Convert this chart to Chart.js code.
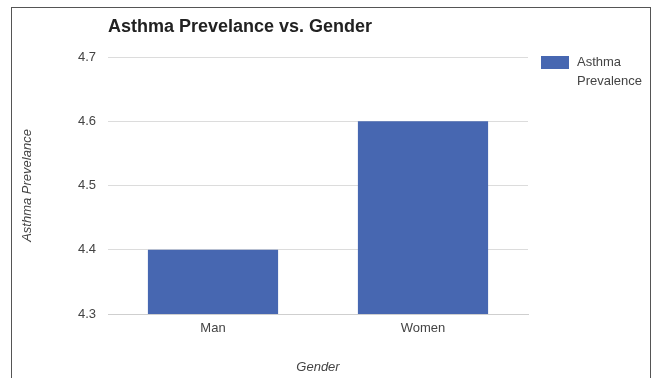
<!DOCTYPE html>
<html>
<head>
<meta charset="utf-8">
<script src="https://cdn.jsdelivr.net/npm/chart.js@4"></script>
<style>
  html, body { margin: 0; padding: 0; background: #fff; overflow: hidden; }
  #frame {
    position: absolute; left: 11px; top: 7px; width: 638px; height: 400px;
    border: 1.5px solid #555; border-bottom: none;
  }
  #wrap { position: absolute; left: 0; top: 0; width: 653px; height: 378px; }
</style>
</head>
<body>
<div id="frame"></div>
<div id="wrap"><canvas id="chart" width="653" height="378"></canvas></div>
<script>
// 資料
const categories = ['Man', 'Women'];
const prevalence = [4.4, 4.6];
const seriesName = 'Asthma Prevalence';
const chartTitle = 'Asthma Prevelance vs. Gender';
const yTitle = 'Asthma Prevelance';
const xTitle = 'Gender';
const yMin = 4.3, yMax = 4.7, yStep = 0.1;

const barColor = '#4767b1';
const textColor = '#444';
const fontFamily = '"Liberation Sans", Arial, sans-serif';

// 標題畫在繪圖區左邊對齊
const titlePlugin = {
  id: 'leftTitle',
  afterDraw(chart) {
    const { ctx, chartArea } = chart;
    ctx.save();
    ctx.font = 'bold 18px ' + fontFamily;
    ctx.fillStyle = '#222';
    ctx.textBaseline = 'alphabetic';
    ctx.textAlign = 'left';
    ctx.fillText(chartTitle, chartArea.left, 32);
    ctx.restore();
  }
};

// 右側圖例（文字自動換行）
const legendPlugin = {
  id: 'sideLegend',
  afterDraw(chart) {
    const { ctx, chartArea } = chart;
    const ds = chart.data.datasets[0];
    const x = chartArea.right + 13;
    const y = chartArea.top - 1;
    ctx.save();
    ctx.fillStyle = ds.backgroundColor;
    ctx.fillRect(x, y, 28, 13);
    ctx.font = '13px ' + fontFamily;
    ctx.fillStyle = textColor;
    ctx.textBaseline = 'middle';
    ctx.textAlign = 'left';
    ds.label.split(' ').forEach((w, i) => {
      ctx.fillText(w, x + 36, y + 6 + i * 19);
    });
    ctx.restore();
  }
};

const ctx = document.getElementById('chart').getContext('2d');
new Chart(ctx, {
  type: 'bar',
  data: {
    labels: categories,
    datasets: [{
      label: seriesName,
      data: prevalence,
      backgroundColor: barColor,
      borderWidth: 0,
      categoryPercentage: 1,
      barPercentage: 0.62
    }]
  },
  options: {
    responsive: false,
    animation: false,
    layout: { padding: { left: 16, right: 125, top: 57, bottom: 0 } },
    plugins: {
      legend: { display: false },
      title: { display: false },
      tooltip: { enabled: false }
    },
    scales: {
      x: {
        grid: { display: false, drawTicks: false },
        border: { color: '#cfcfcf' },
        ticks: { color: textColor, font: { family: fontFamily, size: 13 }, padding: 7 },
        title: {
          display: true, text: xTitle, color: textColor,
          font: { family: fontFamily, size: 13, style: 'italic' },
          padding: { top: 4, bottom: 3 }
        },
        afterFit(scale) { scale.height = 64; }
      },
      y: {
        min: yMin, max: yMax,
        grid: { color: '#dcdcdc', drawTicks: false },
        border: { display: false },
        ticks: {
          stepSize: yStep, color: textColor, padding: 12,
          font: { family: fontFamily, size: 13 },
          callback: v => v.toFixed(1)
        },
        title: {
          display: true, text: yTitle, color: textColor,
          font: { family: fontFamily, size: 13, style: 'italic' },
          padding: { top: 4, bottom: 4 }
        },
        afterFit(scale) { scale.width = 92; }
      }
    }
  },
  plugins: [titlePlugin, legendPlugin]
});
</script>
</body>
</html>
